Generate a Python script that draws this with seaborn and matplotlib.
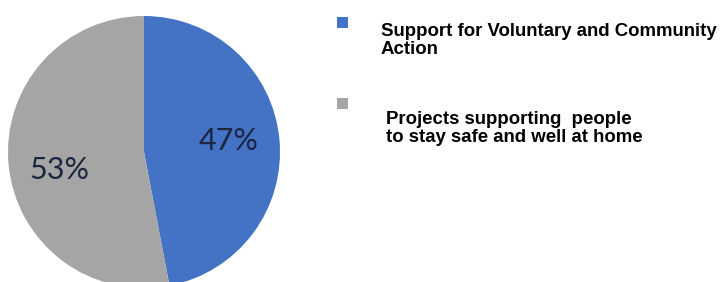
import matplotlib
matplotlib.use("Agg")
import matplotlib.pyplot as plt
import seaborn as sns
from matplotlib.patches import Rectangle

categories = ["Support for Voluntary and Community\nAction",
              "Projects supporting  people\nto stay safe and well at home"]
values = [47, 53]
colors = ["#4472C4", "#A5A5A5"]
pct_labels = ["47%", "53%"]

sns.set_theme(style="white")
plt.rcParams['font.family'] = ['Liberation Sans', 'DejaVu Sans']

W, H = 723, 282
fig = plt.figure(figsize=(W / 100, H / 100), dpi=100)
fig.patch.set_facecolor("white")

cx, cy, r = 144, 152, 136
ax = fig.add_axes([(cx - r) / W, (H - cy - r) / H, 2 * r / W, 2 * r / H])
wedges, texts = ax.pie(values, colors=colors, startangle=90, counterclock=False,
                       radius=1.0, wedgeprops=dict(linewidth=0))
ax.set_xlim(-1, 1)
ax.set_ylim(-1, 1)
ax.set_aspect("auto")
ax.axis("off")

# percentage labels
label_pos = [(0.62, 0.08), (-0.62, -0.13)]
for (x, y), lab in zip(label_pos, pct_labels):
    ax.text(x, y, lab, ha="center", va="center", fontsize=22,
            color="#1C2540", family=["Lato", "DejaVu Sans"])

# legend
legend_rows = [(17, 381, 23), (98, 386, 111)]
for (sq_top, tx, top), cat, col in zip(legend_rows, categories, colors):
    fig.patches.append(Rectangle((337 / W, 1 - (sq_top + 11) / H), 11 / W, 11 / H,
                                 transform=fig.transFigure, facecolor=col,
                                 edgecolor="none"))
    fig.text(tx / W, 1 - top / H, cat, ha="left", va="top",
             fontsize=13.4, fontweight="bold", color="black", linespacing=1.07)

fig.savefig("out.png", dpi=100, facecolor="white")
